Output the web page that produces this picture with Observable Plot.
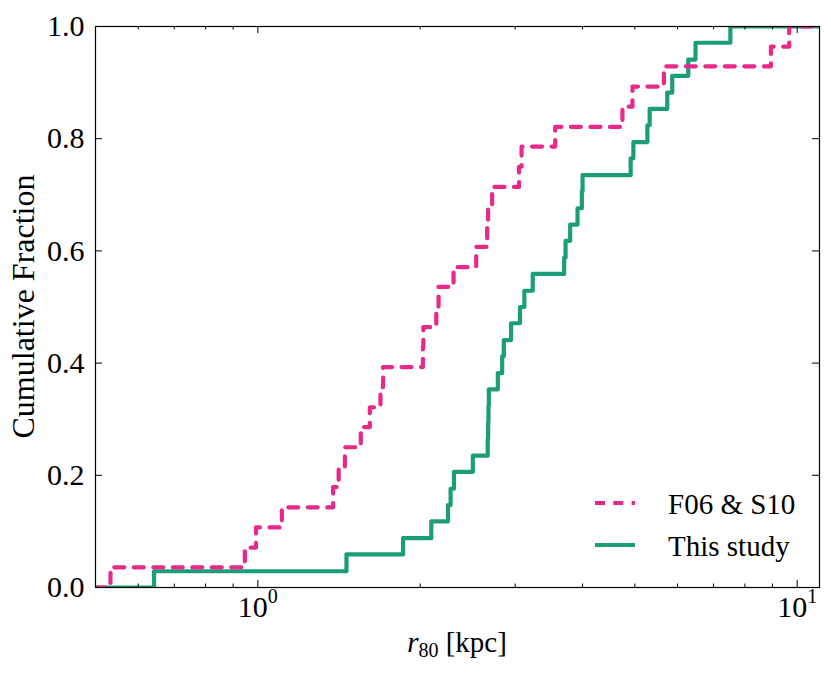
<!DOCTYPE html>
<html><head><meta charset="utf-8">
<script src="https://cdn.jsdelivr.net/npm/d3@7"></script>
<script src="https://cdn.jsdelivr.net/npm/@observablehq/plot@0.6"></script>
<style>
body{margin:0;background:#fff;}
#wrap{position:relative;width:831px;height:675px;}
#wrap svg{display:block;}
#wrap svg text, #wrap svg tspan{font-family:'Liberation Serif', serif !important;}
#legend{position:absolute;left:0;top:0;pointer-events:none;}
</style></head><body><div id="wrap"></div>
<script>
// r80 values [kpc] at which each cumulative step occurs
const f06X = [0.533, 0.946, 0.992, 1.108, 1.379, 1.412, 1.450, 1.552, 1.613, 1.688, 1.707, 2.023, 2.027, 2.142,
  2.163, 2.306, 2.540, 2.662, 2.673, 2.719, 3.050, 3.083, 3.559, 4.742, 4.950, 5.660, 8.940, 9.665];
const f06Y = [0.036, 0.071, 0.107, 0.143, 0.179, 0.214, 0.250, 0.286, 0.321, 0.357, 0.393, 0.429, 0.464, 0.500,
  0.536, 0.571, 0.607, 0.643, 0.679, 0.714, 0.750, 0.786, 0.821, 0.857, 0.893, 0.929, 0.964, 1.000];
const studyX = [0.642, 1.460, 1.859, 2.097, 2.252, 2.277, 2.310, 2.504, 2.668, 2.673, 2.677, 2.681, 2.786, 2.838,
  2.858, 2.948, 3.063, 3.120, 3.234, 3.698, 3.720, 3.794, 3.915, 3.988, 4.000, 4.912, 4.969, 5.276, 5.327, 5.742,
  5.866, 6.281, 6.479, 7.518];
const studyY = [0.029, 0.059, 0.088, 0.118, 0.147, 0.176, 0.206, 0.235, 0.265, 0.294, 0.324, 0.353, 0.382, 0.412,
  0.441, 0.471, 0.500, 0.529, 0.559, 0.588, 0.618, 0.647, 0.676, 0.706, 0.735, 0.765, 0.794, 0.824, 0.853, 0.882,
  0.912, 0.941, 0.971, 1.000];
const xDomain = [0.5, 11];
const yDomain = [0, 1];
const yTicks = [0.0, 0.2, 0.4, 0.6, 0.8, 1.0];
const xMajor = [1, 10];
const xMinor = [0.6, 0.7, 0.8, 0.9, 2, 3, 4, 5, 6, 7, 8, 9];
const xTickLabels = ["10^0", "10^1"];
const seriesNames = ["F06 & S10", "This study"];
const colors = ["#e7298a", "#1b9e77"];

function buildRows(xs, ys, name) {
  const r = [{x: xDomain[0], y: yDomain[0], name}];
  xs.forEach((x, i) => r.push({x, y: ys[i], name}));
  r.push({x: xDomain[1], y: ys[ys.length - 1], name});
  return r;
}
const f06 = buildRows(f06X, f06Y, seriesNames[0]);
const study = buildRows(studyX, studyY, seriesNames[1]);

const W = 831, H = 675, mL = 95, mR = 12, mT = 26, mB = 88;
const iw = W - mL - mR, ih = H - mT - mB;
const majorLen = 7, minorLen = 3.5;
const FONT = "'Liberation Serif', serif";

const chart = Plot.plot({
  width: W, height: H,
  marginLeft: mL, marginRight: mR, marginTop: mT, marginBottom: mB,
  style: {fontFamily: FONT, fontSize: "30px", color: "#000", background: "#fff", overflow: "visible"},
  x: {type: "log", domain: xDomain},
  y: {domain: yDomain},
  marks: [
    Plot.line(study, {x: "x", y: "y", curve: "step-after", stroke: colors[1], strokeWidth: 4.2, clip: true}),
    Plot.line(f06, {x: "x", y: "y", curve: "step-after", stroke: colors[0], strokeWidth: 4.2,
      strokeDasharray: "10,9.5", clip: true}),
    // inward ticks
    Plot.ruleX(xMajor, {x: d => d, insetTop: ih - majorLen, stroke: "#000", strokeWidth: 1}),
    Plot.ruleX(xMajor, {x: d => d, insetBottom: ih - majorLen, stroke: "#000", strokeWidth: 1}),
    Plot.ruleX(xMinor, {x: d => d, insetTop: ih - minorLen, stroke: "#000", strokeWidth: 1}),
    Plot.ruleX(xMinor, {x: d => d, insetBottom: ih - minorLen, stroke: "#000", strokeWidth: 1}),
    Plot.ruleY(yTicks, {y: d => d, insetRight: iw - majorLen, stroke: "#000", strokeWidth: 1}),
    Plot.ruleY(yTicks, {y: d => d, insetLeft: iw - majorLen, stroke: "#000", strokeWidth: 1}),
    Plot.axisX({ticks: xMajor, tickSize: 0, tickPadding: 8, label: null,
      tickFormat: d => xTickLabels[xMajor.indexOf(d)], fontSize: 30}),
    Plot.axisY({ticks: yTicks, tickSize: 0, tickPadding: 11, label: null,
      tickFormat: d3.format(".1f"), fontSize: 30}),
    Plot.frame({stroke: "#000", strokeWidth: 1.2})
  ]
});

document.getElementById("wrap").appendChild(chart);
const svg = d3.select(chart);

// superscripts for log tick labels
svg.selectAll('g[aria-label="x-axis tick label"] text').each(function() {
  const t = d3.select(this);
  const s = t.text();
  const [base, exp] = s.split("^");
  t.text(null);
  t.append("tspan").text(base);
  t.append("tspan").attr("dy", "-14px").style("font-size", "20px").text(exp);
});

// axis labels
const xl = svg.append("text")
  .attr("x", mL + iw / 2).attr("y", 652)
  .attr("text-anchor", "middle")
  .style("font-size", "29px");
xl.append("tspan").style("font-style", "italic").text("r");
xl.append("tspan").attr("dy", "5px").style("font-size", "20px").text("80");
xl.append("tspan").attr("dy", "-5px").text(" [kpc]");

svg.append("text")
  .attr("transform", `translate(33.5,${mT + ih / 2}) rotate(-90)`)
  .attr("text-anchor", "middle")
  .style("font-size", "32px")
  .text("Cumulative Fraction");

// legend overlay
const leg = d3.select("#wrap").append("svg").attr("id", "legend")
  .attr("width", W).attr("height", H);
const legendRows = [
  {name: seriesNames[0], color: colors[0], dash: "10,8.3", ly: 503},
  {name: seriesNames[1], color: colors[1], dash: null, ly: 545}
];
legendRows.forEach(r => {
  leg.append("line").attr("x1", 595).attr("x2", 635).attr("y1", r.ly).attr("y2", r.ly)
    .attr("stroke", r.color).attr("stroke-width", 4.2).attr("stroke-dasharray", r.dash);
  leg.append("text").attr("x", 668).attr("y", r.ly + 11)
    .style("font-size", "29px").text(r.name);
});
</script>
</body></html>
